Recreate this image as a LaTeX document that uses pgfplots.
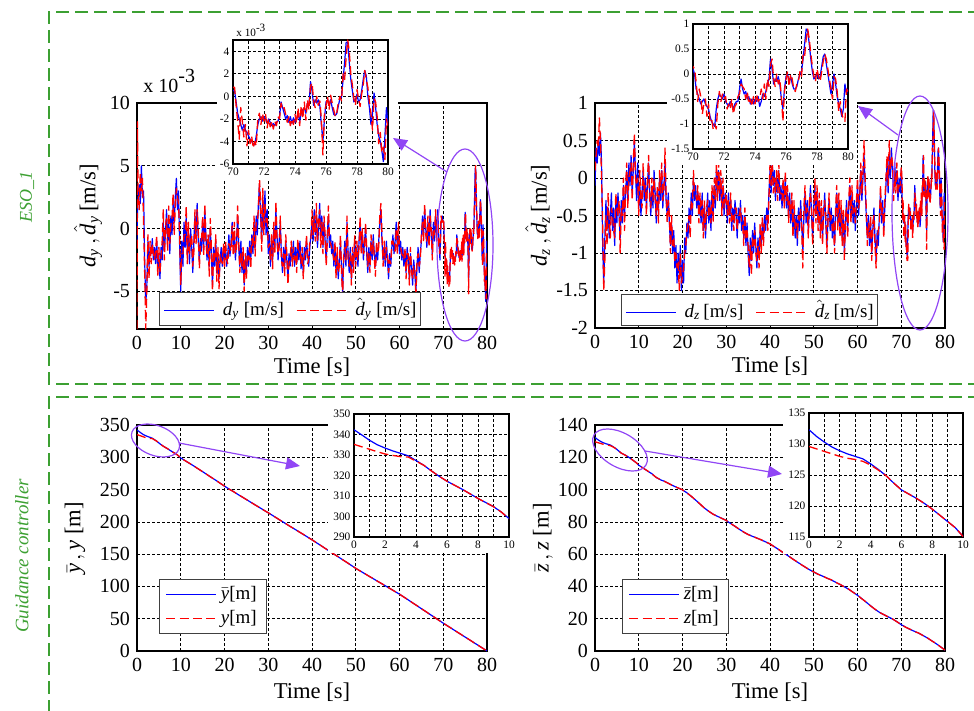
\documentclass[border=0pt]{standalone}
\usepackage{amsmath}
\usepackage{fontspec}
\setmainfont{Liberation Serif}
\usepackage{pgfplots}
\pgfplotsset{compat=1.18}
\usepackage{pgfplotstable}
\usetikzlibrary{arrows.meta}

\definecolor{boxgreen}{RGB}{60,160,50}
\definecolor{zoomviolet}{RGB}{145,70,245}

% ---------- data ----------
% disturbance d_y and its estimate (units of 1e-3 m/s)
\pgfplotstableread{
t d dh
0.00 -1.0 -8.0
0.10 1.0 8.5
0.25 2.5 3.0
0.50 3.5 1.5
0.75 2.0 4.5
1.00 5.0 3.0
1.25 2.5 4.0
1.50 3.0 0.5
1.75 -2.5 -3.5
2.00 -6.0 -8.0
2.25 -4.5 -5.0
2.50 -1.0 -0.5
2.75 -3.0 -4.0
3.00 -1.5 -1.0
3.25 -2.0 -2.8
3.50 -0.8 -1.2
3.75 -2.5 -2.0
4.00 -1.5 -2.5
4.25 -2.8 -1.8
4.50 -1.0 -0.5
4.75 -3.2 -3.8
5.00 -2.0 -1.5
5.25 -4.0 -3.5
5.50 -1.5 -2.2
5.75 -2.5 -1.0
6.00 0.5 1.5
6.25 -1.8 -2.5
6.50 -0.5 0.2
6.75 1.5 0.8
7.00 -1.0 -1.8
7.25 0.5 1.8
7.50 -2.0 -1.2
7.75 1.0 0.3
8.00 -0.5 0.8
8.25 2.0 2.8
8.50 0.5 -0.5
8.75 2.5 1.8
9.00 4.0 3.2
9.25 1.5 2.5
9.50 3.0 2.0
9.75 -1.5 -0.5
10.00 -5.0 -4.5
10.25 -1.0 -2.0
10.50 -3.0 -2.0
10.75 0.5 -0.5
11.00 -1.5 -0.5
11.25 1.0 1.8
11.50 -2.0 -2.8
11.75 -0.5 0.5
12.00 -2.8 -2.0
12.25 0.0 -1.0
12.50 -1.5 -0.5
12.75 -3.5 -3.0
13.00 -1.0 -1.8
13.25 1.0 1.5
13.50 -0.5 -1.2
13.75 2.0 1.5
14.00 -1.0 0.0
14.25 -2.5 -3.2
14.50 -0.8 -1.5
14.75 -1.8 -0.8
15.00 0.5 1.0
15.25 -1.5 -2.2
15.50 1.5 2.0
15.75 -0.5 -1.0
16.00 -2.5 -2.0
16.25 -1.0 -0.5
16.50 -3.0 -3.8
16.75 0.0 0.8
17.00 -2.0 -1.5
17.25 -4.5 -5.0
17.50 -1.5 -2.0
17.75 -3.0 -2.5
18.00 -1.0 -0.5
18.25 -3.5 -4.2
18.50 -2.0 -1.5
18.75 -4.0 -4.8
19.00 -2.5 -2.0
19.25 -1.5 -2.5
19.50 -3.0 -2.8
19.75 -1.8 -1.2
20.00 -2.5 -3.2
20.25 -1.5 -1.0
20.50 -3.0 -2.5
20.75 -2.0 -2.8
21.00 -0.5 -1.2
21.25 -2.2 -1.5
21.50 -1.0 -1.8
21.75 0.5 0.2
22.00 -1.5 -2.2
22.25 -0.5 0.5
22.50 -2.5 -2.0
22.75 -1.0 -1.5
23.00 1.0 1.8
23.25 -1.5 -1.0
23.50 -3.0 -3.5
23.75 -1.0 -2.0
24.00 -3.5 -3.0
24.25 -2.0 -1.5
24.50 -4.5 -5.0
24.75 -2.5 -2.0
25.00 -3.5 -4.0
25.25 -1.5 -2.0
25.50 -3.0 -2.5
25.75 -1.0 -1.5
26.00 -2.5 -3.2
26.25 -0.5 -0.8
26.50 -2.0 -1.5
26.75 0.5 1.0
27.00 -1.5 -2.2
27.25 1.0 0.5
27.50 -0.5 0.5
27.75 2.0 1.5
28.00 3.5 4.0
28.25 1.0 2.0
28.50 -1.0 -1.8
28.75 2.5 3.2
29.00 0.0 -0.5
29.25 3.0 2.0
29.50 -0.5 0.5
29.75 1.5 1.0
30.00 -2.0 -1.5
30.25 -0.5 -1.2
30.50 -3.0 -2.5
30.75 -1.0 -0.5
31.00 -2.5 -3.2
31.25 0.0 0.5
31.50 -1.5 -2.0
31.75 1.5 2.2
32.00 -0.5 -1.0
32.25 -2.5 -2.0
32.50 -1.0 -1.5
32.75 0.5 1.0
33.00 -2.0 -2.5
33.25 -3.5 -3.0
33.50 -1.5 -2.0
33.75 -3.0 -3.8
34.00 -1.0 -0.5
34.25 -2.5 -2.0
34.50 -4.0 -4.5
34.75 -2.0 -2.8
35.00 -3.0 -2.5
35.25 -1.5 -1.0
35.50 -2.5 -3.0
35.75 -1.0 -1.5
36.00 -3.0 -2.5
36.25 -1.5 -2.0
36.50 -2.8 -3.5
36.75 -1.2 -0.8
37.00 -2.5 -2.0
37.25 -1.0 -1.8
37.50 -3.2 -2.8
37.75 -2.0 -1.5
38.00 -3.5 -4.0
38.25 -1.5 -2.2
38.50 -2.5 -2.0
38.75 -1.0 -0.5
39.00 -2.0 -2.8
39.25 -3.0 -2.5
39.50 -1.5 -1.0
39.75 -0.5 -1.0
40.00 0.5 1.5
40.25 -1.0 -0.5
40.50 1.5 1.0
40.75 -0.5 -1.0
41.00 1.0 2.0
41.25 -1.5 -1.0
41.50 0.0 0.8
41.75 2.0 1.5
42.00 -0.5 -1.5
42.25 1.0 0.5
42.50 -1.5 -2.0
42.75 0.5 1.0
43.00 -1.0 -0.5
43.25 -2.5 -3.0
43.50 -0.5 -1.0
43.75 1.0 1.8
44.00 -1.5 -1.0
44.25 -0.5 -1.2
44.50 -2.0 -1.5
44.75 -1.0 -2.0
45.00 -3.0 -2.5
45.25 -1.5 -1.0
45.50 -3.5 -4.0
45.75 -2.0 -1.5
46.00 -4.0 -3.5
46.25 -2.5 -3.0
46.50 -1.0 -0.5
46.75 -3.0 -3.5
47.00 -5.0 -5.5
47.25 -2.5 -2.0
47.50 -1.0 -1.5
47.75 -3.0 -2.5
48.00 0.5 1.0
48.25 -2.0 -2.5
48.50 -3.5 -3.0
48.75 -1.5 -2.0
49.00 -4.0 -4.5
49.25 -2.0 -1.5
49.50 -3.0 -3.5
49.75 -1.0 -0.5
50.00 -2.5 -3.0
50.25 -1.5 -1.0
50.50 -3.0 -2.5
50.75 -1.0 -1.5
51.00 0.5 1.0
51.25 -1.5 -2.0
51.50 -0.5 0.0
51.75 -2.5 -2.0
52.00 -1.0 -1.8
52.25 0.0 0.5
52.50 -2.0 -1.5
52.75 -3.5 -3.0
53.00 -1.5 -2.0
53.25 -3.0 -3.5
53.50 -1.0 -0.5
53.75 -2.5 -2.0
54.00 -0.5 -1.0
54.25 -2.0 -2.5
54.50 -3.0 -3.8
54.75 -1.5 -1.0
55.00 -2.5 -2.0
55.25 -1.0 -1.5
55.50 0.5 1.0
55.75 1.5 2.0
56.00 -1.0 -0.5
56.25 -2.5 -3.0
56.50 -1.5 -1.0
56.75 -3.0 -2.5
57.00 -1.0 -1.5
57.25 -2.5 -2.0
57.50 -4.0 -3.5
57.75 -2.0 -2.5
58.00 -3.0 -2.8
58.25 -1.5 -1.0
58.50 -0.5 -1.0
58.75 -2.0 -1.5
59.00 -1.0 -1.8
59.25 0.5 0.0
59.50 -1.5 -2.0
59.75 -0.5 0.5
60.00 -2.0 -1.5
60.25 -1.0 -1.5
60.50 -2.5 -2.0
60.75 -1.5 -2.2
61.00 -3.0 -2.5
61.25 -2.0 -1.5
61.50 -3.5 -4.0
61.75 -1.5 -2.0
62.00 -2.5 -2.0
62.25 -4.0 -4.5
62.50 -2.0 -1.5
62.75 -3.0 -3.5
63.00 -4.5 -4.0
63.25 -2.5 -3.0
63.50 -3.5 -3.0
63.75 -5.0 -5.5
64.00 -3.0 -2.5
64.25 -1.5 -2.0
64.50 -3.5 -3.0
64.75 -2.0 -2.5
65.00 -1.0 -0.5
65.25 1.0 0.5
65.50 -0.5 -1.0
65.75 1.5 2.0
66.00 0.0 -0.5
66.25 -1.5 -1.0
66.50 0.5 1.0
66.75 -1.0 -1.5
67.00 1.5 1.0
67.25 -0.5 0.0
67.50 -2.0 -2.5
67.75 0.5 0.0
68.00 -1.0 -0.5
68.25 1.0 1.5
68.50 -0.5 -1.0
68.75 1.5 1.0
69.00 -1.0 -1.5
69.25 -2.5 -2.0
69.50 0.5 1.0
69.75 1.0 0.5
70.00 0.5 0.8
70.1 0.5 0.8
70.2 -0.5 -0.8
70.3 -1.5 -2.2
70.4 -2.0 -3.8
70.5 -2.5 -1.0
70.6 -3.0 -2.2
70.7 -2.5 -3.6
70.8 -3.0 -2.5
70.9 -3.2 -4.4
71.0 -3.5 -3.0
71.1 -3.8 -4.2
71.2 -4.0 -3.5
71.3 -4.2 -4.6
71.4 -4.3 -4.0
71.5 -3.5 -4.4
71.6 -2.5 -2.0
71.7 -2.0 -1.5
71.8 -1.8 -2.5
71.9 -2.2 -1.5
72.0 -1.8 -2.2
72.1 -2.0 -1.6
72.2 -2.4 -2.8
72.3 -2.0 -2.0
72.4 -2.3 -2.7
72.5 -2.6 -2.2
72.6 -2.4 -2.9
72.7 -2.6 -2.2
72.8 -2.3 -2.6
72.9 -2.2 -1.8
73.0 -1.8 -2.0
73.1 -0.5 -0.6
73.2 -1.0 -1.2
73.3 -1.5 -1.0
73.4 -2.0 -1.6
73.5 -1.7 -2.3
73.6 -2.3 -1.8
73.7 -1.8 -2.6
73.8 -2.4 -2.0
73.9 -1.9 -2.5
74.0 -2.3 -1.6
74.1 -2.0 -2.4
74.2 -1.5 -1.0
74.3 -2.2 -2.6
74.4 -1.5 -0.8
74.5 -1.2 -2.0
74.6 -1.0 -0.5
74.7 -1.5 -2.1
74.8 -0.6 -0.3
74.9 -0.8 -1.2
75.0 1.3 0.9
75.1 0.5 1.2
75.2 -0.8 -0.4
75.3 -0.3 -1.0
75.4 -0.6 0.0
75.5 -0.3 -0.8
75.6 -0.8 -0.4
75.7 -2.5 -2.0
75.8 -4.0 -5.2
75.9 -2.0 -1.5
76.0 -0.5 -0.8
76.1 -0.3 0.0
76.2 -0.8 -1.2
76.3 -0.3 0.1
76.4 -1.0 -0.6
76.5 -1.6 -1.2
76.6 -1.7 -1.8
76.7 -1.5 -1.4
76.8 -0.8 -0.5
76.9 -0.2 0.0
77.0 -0.1 -0.4
77.1 1.5 2.0
77.2 3.0 1.5
77.3 4.8 3.5
77.4 4.8 5.0
77.5 3.0 4.0
77.6 1.5 2.0
77.7 0.5 1.0
77.8 -0.5 -0.2
77.9 -0.3 -0.8
78.0 0.2 0.6
78.1 -0.5 -0.2
78.2 -0.3 -0.9
78.3 0.5 0.2
78.4 1.5 1.0
78.5 2.3 2.3
78.6 1.8 1.5
78.7 0.0 0.8
78.8 -1.0 -0.5
78.9 -2.5 -1.5
79.0 -1.5 -3.0
79.1 0.3 -0.2
79.2 -1.0 -0.5
79.3 -2.5 -1.8
79.4 -3.5 -4.2
79.5 -4.0 -3.2
79.6 -4.8 -5.0
79.7 -5.8 -4.5
79.8 -3.5 -5.6
79.9 -1.0 -2.0
80.0 -2.5 -2.8
}\tdy

% disturbance d_z and its estimate (m/s)
\pgfplotstableread{
t d dh
0.00 -0.1 0.1
0.25 0.4 0.3
0.50 0.2 0.5
0.75 0.5 0.4
1.00 0.3 0.8
1.25 0.6 0.5
1.50 0.2 0.0
1.75 -0.9 -0.6
2.00 -1.4 -1.5
2.25 -0.8 -1.1
2.50 -0.3 -0.5
2.75 -0.7 -0.9
3.00 -0.4 -0.2
3.25 -0.8 -0.6
3.50 -0.5 -0.8
3.75 -0.2 -0.4
4.00 -0.7 -0.5
4.25 -0.4 -0.7
4.50 -0.9 -0.8
4.75 -0.3 -0.2
5.00 -0.6 -0.4
5.25 -0.2 -0.5
5.50 -0.5 -0.3
5.75 -0.8 -1.0
6.00 -0.3 -0.4
6.25 -0.6 -0.5
6.50 -0.1 0.0
6.75 -0.5 -0.7
7.00 -0.2 -0.1
7.25 0.1 0.2
7.50 -0.3 -0.4
7.75 0.2 0.0
8.00 -0.1 0.1
8.25 0.3 0.2
8.50 -0.2 -0.3
8.75 0.1 0.2
9.00 0.5 0.6
9.25 0.1 0.0
9.50 -0.3 -0.1
9.75 0.2 0.0
10.00 -0.4 -0.5
10.25 -0.1 0.1
10.50 -0.5 -0.3
10.75 -0.2 -0.4
11.00 0.1 0.2
11.25 -0.3 -0.2
11.50 0.0 -0.1
11.75 -0.4 -0.5
12.00 -0.1 0.0
12.25 0.2 0.3
12.50 -0.2 -0.3
12.75 -0.5 -0.4
13.00 -0.1 0.0
13.25 -0.4 -0.3
13.50 0.1 0.0
13.75 -0.2 -0.3
14.00 -0.6 -0.5
14.25 -0.2 -0.1
14.50 -0.4 -0.6
14.75 0.0 0.1
15.00 -0.3 -0.2
15.25 0.1 0.2
15.50 -0.4 -0.3
15.75 -0.1 -0.2
16.00 0.2 0.4
16.25 -0.3 -0.2
16.50 -0.5 -0.6
16.75 -0.2 -0.3
17.00 -0.6 -0.5
17.25 -0.9 -1.0
17.50 -0.6 -0.5
17.75 -1.0 -0.9
18.00 -0.7 -0.8
18.25 -1.2 -1.1
18.50 -0.9 -1.0
18.75 -1.4 -1.2
19.00 -1.0 -1.1
19.25 -1.3 -1.5
19.50 -0.9 -1.0
19.75 -1.5 -1.4
20.00 -1.1 -1.3
20.25 -1.4 -1.2
20.50 -0.8 -1.0
20.75 -1.0 -0.9
21.00 -0.6 -0.7
21.25 -0.8 -0.6
21.50 -0.4 -0.5
21.75 -0.6 -0.8
22.00 -0.2 -0.3
22.25 -0.5 -0.4
22.50 0.0 0.1
22.75 -0.3 -0.2
23.00 -0.1 -0.2
23.25 -0.4 -0.3
23.50 -0.2 -0.1
23.75 -0.5 -0.6
24.00 -0.3 -0.2
24.25 -0.6 -0.5
24.50 -0.2 -0.3
24.75 -0.7 -0.8
25.00 -0.4 -0.3
25.25 -0.8 -0.7
25.50 -0.5 -0.4
25.75 -0.2 -0.3
26.00 -0.6 -0.5
26.25 -0.3 -0.4
26.50 -0.7 -0.6
26.75 -0.2 -0.1
27.00 -0.5 -0.6
27.25 -0.1 0.0
27.50 -0.4 -0.3
27.75 0.1 0.2
28.00 -0.2 -0.3
28.25 0.1 0.2
28.50 -0.3 -0.2
28.75 0.0 0.1
29.00 -0.4 -0.5
29.25 -0.1 0.0
29.50 -0.5 -0.4
29.75 -0.2 -0.3
30.00 -0.3 -0.2
30.25 -0.6 -0.5
30.50 -0.2 -0.3
30.75 -0.5 -0.6
31.00 -0.3 -0.2
31.25 -0.7 -0.6
31.50 -0.4 -0.5
31.75 -0.6 -0.7
32.00 -0.3 -0.4
32.25 -0.5 -0.4
32.50 -0.8 -0.7
32.75 -0.4 -0.5
33.00 -0.6 -0.5
33.25 -0.3 -0.4
33.50 -0.7 -0.6
33.75 -0.5 -0.6
34.00 -0.8 -0.9
34.25 -0.5 -0.4
34.50 -0.9 -0.8
34.75 -0.6 -0.7
35.00 -1.0 -0.9
35.25 -1.3 -1.2
35.50 -0.8 -0.9
35.75 -1.1 -1.3
36.00 -0.7 -0.8
36.25 -1.0 -0.9
36.50 -0.6 -0.7
36.75 -0.9 -1.0
37.00 -1.2 -1.1
37.25 -0.8 -0.9
37.50 -1.0 -1.2
37.75 -0.7 -0.6
38.00 -0.9 -1.0
38.25 -0.6 -0.5
38.50 -0.8 -0.9
38.75 -0.5 -0.6
39.00 -0.7 -0.6
39.25 -0.4 -0.5
39.50 -0.6 -0.7
39.75 -0.2 -0.3
40.00 0.1 0.2
40.25 -0.2 -0.1
40.50 0.2 0.3
40.75 -0.1 -0.2
41.00 0.1 0.0
41.25 -0.3 -0.2
41.50 0.0 0.1
41.75 -0.2 -0.3
42.00 0.1 0.2
42.25 -0.3 -0.2
42.50 -0.1 -0.2
42.75 -0.4 -0.3
43.00 -0.1 0.0
43.25 -0.3 -0.4
43.50 0.0 0.1
43.75 -0.4 -0.3
44.00 -0.2 -0.1
44.25 -0.5 -0.6
44.50 -0.2 -0.3
44.75 -0.6 -0.5
45.00 -0.3 -0.2
45.25 -0.7 -0.8
45.50 -0.4 -0.3
45.75 -0.8 -0.7
46.00 -0.5 -0.6
46.25 -0.9 -0.8
46.50 -0.4 -0.5
46.75 -0.7 -0.6
47.00 -0.3 -0.4
47.25 -0.6 -0.7
47.50 -1.0 -1.2
47.75 -0.5 -0.4
48.00 -0.2 -0.1
48.25 -0.6 -0.5
48.50 -0.3 -0.4
48.75 -0.7 -0.8
49.00 -0.4 -0.3
49.25 -0.1 -0.2
49.50 -0.5 -0.4
49.75 -0.8 -0.9
50.00 -0.4 -0.5
50.25 -0.1 0.0
50.50 -0.5 -0.6
50.75 -0.2 -0.1
51.00 -0.6 -0.7
51.25 -0.3 -0.2
51.50 -0.7 -0.8
51.75 -0.4 -0.3
52.00 -0.8 -0.9
52.25 -0.5 -0.4
52.50 -0.2 -0.3
52.75 -0.6 -0.5
53.00 -0.9 -1.0
53.25 -0.5 -0.6
53.50 -0.3 -0.2
53.75 -0.7 -0.6
54.00 -0.4 -0.5
54.25 -0.8 -0.7
54.50 -0.5 -0.6
54.75 -0.9 -1.0
55.00 -0.5 -0.4
55.25 -0.2 -0.1
55.50 -0.6 -0.7
55.75 -0.3 -0.2
56.00 -0.7 -0.8
56.25 -0.4 -0.3
56.50 -0.8 -0.9
56.75 -0.5 -0.4
57.00 -1.0 -1.1
57.25 -0.6 -0.5
57.50 -0.3 -0.4
57.75 -0.7 -0.8
58.00 -0.4 -0.3
58.25 -0.1 0.0
58.50 -0.5 -0.6
58.75 -0.2 -0.1
59.00 -0.6 -0.5
59.25 -0.3 -0.4
59.50 -0.7 -0.6
59.75 -0.4 -0.3
60.00 -0.1 0.0
60.25 -0.5 -0.4
60.50 -0.2 -0.3
60.75 0.1 0.2
61.00 -0.3 -0.2
61.25 0.0 0.1
61.50 0.3 0.5
61.75 -0.1 0.0
62.00 -0.5 -0.4
62.25 -0.8 -0.9
62.50 -0.5 -0.6
62.75 -0.9 -0.8
63.00 -0.6 -0.5
63.25 -1.0 -1.1
63.50 -0.7 -0.6
63.75 -0.4 -0.5
64.00 -0.8 -0.9
64.25 -1.1 -1.2
64.50 -0.7 -0.8
64.75 -0.9 -0.7
65.00 -0.5 -0.6
65.25 -0.2 -0.1
65.50 -0.6 -0.5
65.75 -0.3 -0.4
66.00 -0.7 -0.8
66.25 -0.4 -0.3
66.50 -0.1 0.0
66.75 0.2 0.3
67.00 -0.2 -0.1
67.25 0.3 0.5
67.50 0.0 0.1
67.75 0.4 0.3
68.00 0.1 0.2
68.25 -0.2 -0.3
68.50 0.2 0.1
68.75 -0.1 -0.2
69.00 0.1 0.2
69.25 -0.3 -0.2
69.50 0.0 -0.1
69.75 -0.2 -0.1
70.0 0.1 0.15
70.1 0.0 0.1
70.2 -0.3 -0.15
70.3 -0.4 -0.55
70.4 -0.5 -0.3
70.5 -0.6 -0.45
70.6 -0.55 -0.8
70.7 -0.5 -0.6
70.8 -0.6 -0.5
70.9 -0.65 -0.85
71.0 -0.7 -0.6
71.1 -0.85 -0.95
71.2 -0.95 -0.9
71.3 -1.0 -1.1
71.4 -1.05 -1.0
71.5 -0.7 -1.1
71.6 -0.5 -0.6
71.7 -0.4 -0.35
71.8 -0.45 -0.55
71.9 -0.5 -0.4
72.0 -0.4 -0.5
72.1 -0.55 -0.45
72.2 -0.6 -0.7
72.3 -0.65 -0.6
72.4 -0.55 -0.7
72.5 -0.6 -0.5
72.6 -0.7 -0.8
72.7 -0.6 -0.65
72.8 -0.55 -0.6
72.9 -0.55 -0.45
73.0 -0.3 -0.4
73.1 -0.1 -0.2
73.2 -0.3 -0.25
73.3 -0.4 -0.3
73.4 -0.35 -0.5
73.5 -0.5 -0.35
73.6 -0.45 -0.6
73.7 -0.6 -0.5
73.8 -0.5 -0.65
73.9 -0.6 -0.45
74.0 -0.5 -0.6
74.1 -0.55 -0.4
74.2 -0.45 -0.55
74.3 -0.65 -0.5
74.4 -0.55 -0.3
74.5 -0.4 -0.5
74.6 -0.45 -0.2
74.7 -0.35 -0.5
74.8 -0.2 -0.1
74.9 -0.1 -0.25
75.0 0.3 0.2
75.1 0.1 0.3
75.2 -0.2 -0.1
75.3 -0.1 -0.25
75.4 -0.15 0.0
75.5 -0.05 -0.2
75.6 -0.2 -0.1
75.7 -0.5 -0.45
75.8 -0.7 -0.95
75.9 -0.3 -0.35
76.0 -0.05 -0.1
76.1 0.0 0.05
76.2 -0.15 -0.25
76.3 -0.05 0.0
76.4 -0.2 -0.1
76.5 -0.3 -0.3
76.6 -0.3 -0.35
76.7 -0.25 -0.2
76.8 -0.1 -0.15
76.9 0.0 0.05
77.0 0.05 -0.05
77.1 0.3 0.4
77.2 0.6 0.35
77.3 0.9 0.7
77.4 0.85 0.9
77.5 0.6 0.7
77.6 0.3 0.4
77.7 0.05 0.15
77.8 -0.1 -0.05
77.9 -0.05 -0.15
78.0 0.0 0.1
78.1 -0.1 -0.05
78.2 -0.05 -0.15
78.3 0.15 0.05
78.4 0.35 0.25
78.5 0.4 0.4
78.6 0.2 0.3
78.7 0.0 0.1
78.8 -0.2 -0.1
78.9 -0.4 -0.3
79.0 -0.2 -0.5
79.1 0.0 -0.05
79.2 -0.2 -0.1
79.3 -0.45 -0.35
79.4 -0.6 -0.75
79.5 -0.7 -0.55
79.6 -0.85 -0.8
79.7 -0.7 -0.9
79.8 -0.2 -0.95
79.9 -0.4 -0.3
80.0 -0.3 -0.35
}\tdz

% reference ybar and actual y (m)
\pgfplotstableread{
t r a
0 342.3 335.2
0.5 339.8 334.0
1 337.2 332.8
1.5 335.0 331.6
2 333.4 330.5
2.5 332.0 329.8
3 330.8 329.2
3.5 329.6 329.0
4 327.3 327.0
4.5 325.0 325.0
5 322.2 322.2
5.5 319.6 319.6
6 317.2 317.2
6.5 315.2 315.2
7 313.2 313.2
7.5 311.0 311.0
8 308.8 308.8
8.5 306.8 306.8
9 304.8 304.8
9.5 302.2 302.2
10 299.0 299.0
11 294.8 294.7
12 290.6 290.7
13 286.5 286.4
14 282.0 282.1
15 277.7 277.6
16 273.2 273.3
17 268.8 268.7
18 264.5 264.6
19 259.9 259.8
20 255.3 255.4
21 251.0 250.9
22 247.0 247.1
23 242.8 242.7
24 238.7 238.8
25 234.6 234.5
26 230.4 230.5
27 226.3 226.2
28 222.2 222.3
29 218.1 218.0
30 214.0 214.1
31 209.9 209.8
32 205.6 205.7
33 201.4 201.3
34 197.2 197.3
35 193.0 192.9
36 188.9 189.0
37 184.8 184.7
38 180.6 180.7
39 176.4 176.3
40 172.2 172.3
41 167.8 167.7
42 163.4 163.5
43 159.0 158.9
44 154.6 154.7
45 150.2 150.1
46 145.8 145.9
47 141.4 141.3
48 137.0 137.1
49 132.5 132.4
50 128.0 128.1
51 124.0 123.9
52 120.0 120.1
53 116.0 115.9
54 112.0 112.1
55 108.0 107.9
56 104.0 104.1
57 100.0 99.9
58 96.0 96.1
59 92.0 91.9
60 88.0 88.1
61 83.6 83.5
62 79.1 79.2
63 74.6 74.5
64 70.1 70.2
65 65.6 65.5
66 61.1 61.2
67 56.6 56.5
68 52.1 52.2
69 47.6 47.5
70 43.1 43.2
71 38.8 38.7
72 34.5 34.6
73 30.2 30.1
74 25.9 26.0
75 21.6 21.5
76 17.3 17.4
77 13.0 12.9
78 8.7 8.8
79 4.4 4.3
80 0.2 0.2
}\tyy

% reference zbar and actual z (m)
\pgfplotstableread{
t r a
0 132.3 129.6
0.5 131.2 129.2
1 130.3 128.8
1.5 129.5 128.4
2 128.9 128.0
2.5 128.4 127.7
3 128.0 127.5
3.5 127.6 127.2
4 126.8 126.6
4.5 125.9 125.8
5 124.9 124.9
5.5 123.7 123.7
6 122.6 122.6
6.5 121.9 121.9
7 121.2 121.2
7.5 120.4 120.4
8 119.5 119.5
8.5 118.5 118.5
9 117.5 117.5
9.5 116.5 116.5
10 115.1 115.1
11 113.3 113.3
12 111.5 111.6
13 109.8 109.7
14 107.5 107.5
15 106.0 106.1
16 105.0 104.9
17 103.5 103.6
18 102.2 102.1
19 101.0 101.0
20 99.8 99.9
21 98.0 97.9
22 95.8 95.9
23 93.5 93.4
24 91.0 91.1
25 88.6 88.5
26 86.5 86.6
27 84.8 84.7
28 83.4 83.5
29 82.2 82.1
30 80.8 80.9
31 79.0 78.9
32 77.2 77.3
33 75.4 75.3
34 73.6 73.7
35 72.2 72.1
36 71.0 71.1
37 70.0 69.9
38 68.8 68.9
39 67.6 67.5
40 66.3 66.4
41 64.6 64.5
42 62.8 62.9
43 61.0 60.9
44 59.2 59.3
45 57.4 57.3
46 55.5 55.6
47 53.8 53.7
48 52.0 52.1
49 50.4 50.3
50 48.9 49.0
51 47.6 47.5
52 46.4 46.5
53 45.2 45.1
54 44.0 44.1
55 42.6 42.5
56 41.2 41.3
57 39.8 39.7
58 38.2 38.3
59 36.4 36.3
60 34.5 34.6
61 32.4 32.3
62 30.2 30.3
63 28.0 27.9
64 25.8 25.9
65 24.0 23.9
66 22.5 22.6
67 21.2 21.1
68 19.8 19.9
69 18.2 18.1
70 16.3 16.4
71 14.8 14.7
72 13.4 13.5
73 12.2 12.1
74 11.0 11.1
75 9.6 9.5
76 8.0 8.1
77 6.3 6.2
78 4.5 4.6
79 2.6 2.5
80 0.5 0.6
}\tzz

% ---------- styles ----------
\tikzset{
  lb/.style={blue, line width=0.6pt, line join=round},
  lr/.style={red, line width=0.65pt, line join=round, dash pattern=on 4.5pt off 2.2pt},
  legbox/.style={draw=black!75, line width=0.5pt, fill=white, anchor=south west,
    inner xsep=2pt, inner ysep=2.5pt, font=\fontsize{9.5}{11}\selectfont},
}
% one legend sample: a 25pt line in the given style
\newcommand\legline[1]{\tikz[baseline=-0.6ex]\draw[#1] (0pt,0pt) -- (25pt,0pt);}

\pgfplotsset{
  legb/.style={legend image code/.code={%
    \draw[blue, line width=0.6pt, solid] (0pt,0pt) -- (25pt,0pt);}},
  legr/.style={legend image code/.code={%
    \draw[red, line width=0.65pt, dash pattern=on 4.5pt off 2.2pt] (0pt,0pt) -- (25pt,0pt);}},
  common/.style={
    scale only axis,
    grid=major,
    major grid style={black, line width=0.35pt, dash pattern=on 1.4pt off 1.1pt},
    axis line style={black, line width=0.75pt},
    tick style={draw=none},
    /pgf/number format/assume math mode=true,
    clip=true,
  },
  mainax/.style={
    common,
    width=175pt,
    xmin=0, xmax=80, xtick={0,10,...,80},
    tick label style={font=\fontsize{10}{12}\selectfont},
    xlabel={Time [s]},
    xlabel style={at={(axis description cs:0.5,0)}, anchor=center, yshift=-19pt,
      font=\fontsize{11.3}{13}\selectfont},
    ylabel style={anchor=center, font=\fontsize{11.3}{13}\selectfont},
    legend style={draw=black!75, line width=0.5pt, fill=white,
      font=\fontsize{9.5}{11}\selectfont, anchor=south west,
      inner xsep=3pt, inner ysep=1.5pt, row sep=0pt},
    legend cell align=right,
  },
  inset/.style={
    common,
    tick label style={font=\fontsize{5.7}{6.5}\selectfont, inner sep=1.6pt},
    axis background/.style={fill=white},
  },
}

\begin{document}
\begin{tikzpicture}

% ================= ESO: d_y =================
\begin{axis}[mainax, at={(68.5pt,-164.5pt)}, anchor=south west, height=113pt,
  ymin=-8, ymax=10, ytick={-5,0,5,10},
  ylabel={$\mathit{d}_{\mathit{y}}\,,\hat{\mathit{d}}_{\mathit{y}}$\,[m/s]},
  ylabel style={at={(axis description cs:-0.14,0.5)}},
]
\addplot[lb] table[x=t, y=d]{\tdy};
\addplot[lr] table[x=t, y=dh]{\tdy};
\node[legbox] at (rel axis cs:0.063,0.013)
  {\legline{lb}\hspace{4pt}$\mathit{d}_{\mathit{y}}$ [m/s]\hspace{6pt}%
   \legline{lr}\hspace{4pt}$\hat{\mathit{d}}_{\mathit{y}}$ [m/s]};
\end{axis}

% ================= ESO: d_z =================
\begin{axis}[mainax, at={(297.5pt,-164pt)}, anchor=south west, height=112.5pt,
  ymin=-2, ymax=1, ytick={-2,-1.5,...,1},
  ylabel={$\mathit{d}_{\mathit{z}}\,,\hat{\mathit{d}}_{\mathit{z}}$\,[m/s]},
  ylabel style={at={(axis description cs:-0.163,0.5)}},
]
\addplot[lb] table[x=t, y=d]{\tdz};
\addplot[lr] table[x=t, y=dh]{\tdz};
\node[legbox] at (rel axis cs:0.074,0.01)
  {\legline{lb}\hspace{4pt}$\mathit{d}_{\mathit{z}}$\,[m/s]\hspace{6pt}%
   \legline{lr}\hspace{4pt}$\hat{\mathit{d}}_{\mathit{z}}$\,[m/s]};
\end{axis}

% ================= guidance: y =================
\begin{axis}[mainax, at={(68.5pt,-325.5pt)}, anchor=south west, height=113pt,
  ymin=0, ymax=350, ytick={0,50,...,350},
  xlabel style={yshift=-1.5pt},
  ylabel={$\bar{\mathit{y}}\,, \mathit{y}$ [m]},
  ylabel style={at={(axis description cs:-0.177,0.5)}},
  legend style={at={(0.063,0.075)}},
]
\addplot[lb, legb] table[x=t, y=r]{\tyy};
\addlegendentry{$\bar{\mathit{y}}$[m]}
\addplot[lr, legr] table[x=t, y=a]{\tyy};
\addlegendentry{$\mathit{y}$[m]}
\end{axis}

% ================= guidance: z =================
\begin{axis}[mainax, at={(297.5pt,-325.5pt)}, anchor=south west, height=113pt,
  ymin=0, ymax=140, ytick={0,20,...,140},
  xlabel style={yshift=-1.5pt},
  ylabel={$\bar{\mathit{z}}\,, \mathit{z}$ [m]},
  ylabel style={at={(axis description cs:-0.149,0.5)}},
  legend style={at={(0.077,0.075)}},
]
\addplot[lb, legb] table[x=t, y=r]{\tzz};
\addlegendentry{$\bar{\mathit{z}}$[m]}
\addplot[lr, legr] table[x=t, y=a]{\tzz};
\addlegendentry{$\mathit{z}$[m]}
\end{axis}

% white panels behind the zoomed views
\begin{scope}[x=0.5pt, y=-0.5pt]
  \fill[white] (217,18) rectangle (398,180);
  \fill[white] (667,8) rectangle (857,165);
  \fill[white] (328,402) rectangle (515,553);
  \fill[white] (783,402) rectangle (974,554);
\end{scope}

% ---- zoom d_y ----
\begin{axis}[inset, at={(116.5pt,-82pt)}, anchor=south west, width=77.5pt, height=62pt,
  xmin=70, xmax=80, xtick={70,...,80}, xticklabels={70,,72,,74,,76,,78,,80},
  ymin=-6, ymax=5, ytick={-6,-4,...,4}]
\addplot[lb] table[x=t, y=d]{\tdy};
\addplot[lr] table[x=t, y=dh]{\tdy};
\end{axis}

% ---- zoom d_z ----
\begin{axis}[inset, at={(346.5pt,-74.5pt)}, anchor=south west, width=77.5pt, height=62.5pt,
  xmin=70, xmax=80, xtick={70,...,80}, xticklabels={70,,72,,74,,76,,78,,80},
  ymin=-1.5, ymax=1, ytick={-1.5,-1,...,1}]
\addplot[lb] table[x=t, y=d]{\tdz};
\addplot[lr] table[x=t, y=dh]{\tdz};
\end{axis}

% ---- zoom y ----
\begin{axis}[inset, at={(177pt,-268.5pt)}, anchor=south west, width=77.5pt, height=61.5pt,
  xmin=0, xmax=10, xtick={0,...,10}, xticklabels={0,,2,,4,,6,,8,,10},
  ymin=290, ymax=350, ytick={290,300,...,350}]
\addplot[lb] table[x=t, y=r]{\tyy};
\addplot[lr] table[x=t, y=a]{\tyy};
\end{axis}

% ---- zoom z ----
\begin{axis}[inset, at={(404.5pt,-268.5pt)}, anchor=south west, width=77pt, height=62pt,
  xmin=0, xmax=10, xtick={0,...,10}, xticklabels={0,,2,,4,,6,,8,,10},
  ymin=115, ymax=135, ytick={115,120,...,135}]
\addplot[lb] table[x=t, y=r]{\tzz};
\addplot[lr] table[x=t, y=a]{\tzz};
\end{axis}

% ---------- annotations ----------
\begin{scope}[x=0.5pt, y=-0.5pt]
  % scale factors
  \node[anchor=base west, inner sep=0pt, font=\fontsize{10}{12}\selectfont]
    at (143,93) {x 10\raisebox{1.1ex}{-3}};
  \node[anchor=base west, inner sep=0pt, font=\fontsize{5.6}{6.5}\selectfont]
    at (236,37) {x 10\raisebox{1.1ex}{-3}};

  % zoom markers
  \begin{scope}[zoomviolet, line width=0.6pt]
    \draw (465,245) ellipse [x radius=28, y radius=96];
    \draw (920,213) ellipse [x radius=28, y radius=117];
    \draw[rotate around={-20:(155.5,440.5)}] (155.5,440.5) ellipse [x radius=25, y radius=15];
    \draw[rotate around={-30:(620,450)}] (620,450) ellipse [x radius=30, y radius=17];
    \draw[-{Triangle[length=7pt,width=6pt]}] (447,172) -- (393,138);
    \draw[-{Triangle[length=7pt,width=6pt]}] (898,135) -- (858,106);
    \draw[-{Triangle[length=7pt,width=6pt]}] (179,443) -- (300,466);
    \draw[-{Triangle[length=7pt,width=6pt]}] (645,451) -- (782,474);
  \end{scope}

  % section frames
  \draw[boxgreen, line width=0.75pt, dash pattern=on 6.5pt off 3pt]
    (1000,12) -- (49,12) -- (49,384) -- (1000,384);
  \draw[boxgreen, line width=0.75pt, dash pattern=on 6.5pt off 3pt]
    (1000,397) -- (49,397) -- (49,740);
  \node[rotate=90, text=boxgreen, font=\itshape\fontsize{9}{10}\selectfont]
    at (27,197) {ESO\_1};
  \node[rotate=90, text=boxgreen, font=\itshape\fontsize{9.5}{10}\selectfont]
    at (22,556) {Guidance controller};
\end{scope}

% page = the full figure area
\pgfresetboundingbox
\path (0pt,0pt) rectangle (487pt,-355.5pt);
\end{tikzpicture}
\end{document}
